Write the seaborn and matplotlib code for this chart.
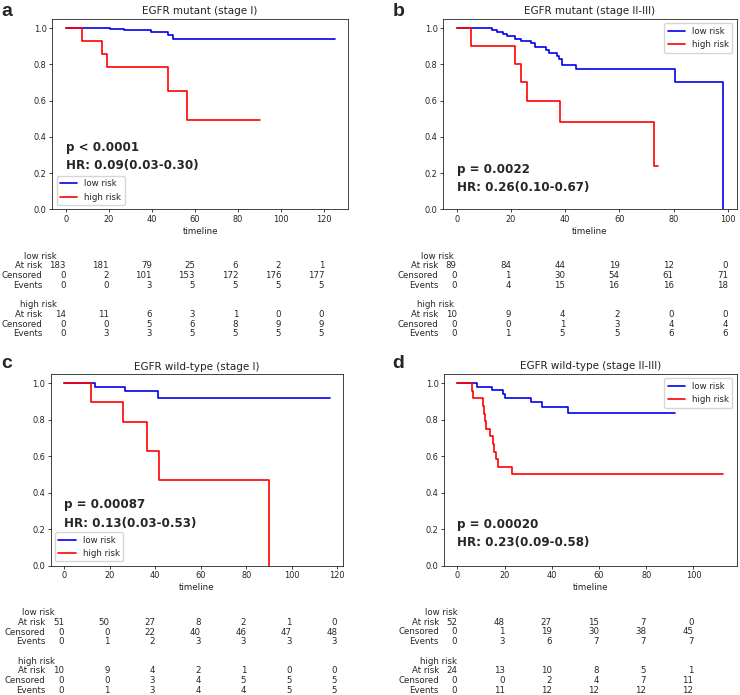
import matplotlib
matplotlib.use("Agg")
import numpy as np
import pandas as pd
import matplotlib.pyplot as plt
import matplotlib.transforms as mtransforms
import seaborn as sns

# ---------------- data ----------------
titles = ["EGFR mutant (stage I)", "EGFR mutant (stage II-III)",
          "EGFR wild-type (stage I)", "EGFR wild-type (stage II-III)"]
panel_letters = ["a", "b", "c", "d"]
p_texts = ["p < 0.0001", "p = 0.0022", "p = 0.00087", "p = 0.00020"]
hr_texts = ["HR: 0.09(0.03-0.30)", "HR: 0.26(0.10-0.67)",
            "HR: 0.13(0.03-0.53)", "HR: 0.23(0.09-0.58)"]
group_names = ["low risk", "high risk"]
row_names = ["At risk", "Censored", "Events"]

# Kaplan-Meier step curves (time, survival)
a_low_t = [0, 20.6, 27.1, 39.8, 47.4, 49.8, 124.8]
a_low_s = [1.0, 0.994, 0.988, 0.977, 0.964, 0.941, 0.941]
a_high_t = [0, 7.5, 16.8, 19.3, 47.4, 56.2, 90.2]
a_high_s = [1.0, 0.929, 0.857, 0.786, 0.655, 0.491, 0.491]

b_low_t = [0, 13.2, 14.8, 17.0, 18.7, 21.5, 23.7, 27.3, 28.8, 33.1, 34.1,
           37.1, 37.7, 38.7, 43.9, 80.4, 98.3]
b_low_s = [1.0, 0.989, 0.977, 0.966, 0.954, 0.942, 0.930, 0.918, 0.893, 0.877,
           0.862, 0.846, 0.830, 0.795, 0.773, 0.703, 0.0]
b_high_t = [0, 5.3, 21.6, 23.7, 25.9, 38.1, 72.9, 74.1]
b_high_s = [1.0, 0.90, 0.80, 0.70, 0.60, 0.48, 0.24, 0.24]

c_low_t = [0, 13.8, 26.8, 41.4, 116.8]
c_low_s = [1.0, 0.980, 0.960, 0.920, 0.920]
c_high_t = [0, 11.7, 25.7, 36.6, 41.5, 90.1]
c_high_s = [1.0, 0.90, 0.787, 0.630, 0.472, 0.0]

d_low_t = [0, 8.5, 14.5, 19.4, 20.1, 31.4, 35.8, 46.9, 92.3]
d_low_s = [1.0, 0.981, 0.961, 0.941, 0.921, 0.898, 0.868, 0.835, 0.835]
d_high_t = [0, 6.3, 6.8, 10.8, 11.3, 11.8, 12.3, 13.8, 15.3, 15.7, 16.2, 17.3, 23.2, 112.7]
d_high_s = [1.0, 0.958, 0.917, 0.875, 0.833, 0.792, 0.750, 0.708, 0.667, 0.625,
            0.583, 0.542, 0.500, 0.500]

# at-risk tables (columns at these times)
a_times = [0, 20, 40, 60, 80, 100, 120]
a_low_atrisk = [183, 181, 79, 25, 6, 2, 1]
a_low_cens = [0, 2, 101, 153, 172, 176, 177]
a_low_events = [0, 0, 3, 5, 5, 5, 5]
a_high_atrisk = [14, 11, 6, 3, 1, 0, 0]
a_high_cens = [0, 0, 5, 6, 8, 9, 9]
a_high_events = [0, 3, 3, 5, 5, 5, 5]

b_times = [0, 20, 40, 60, 80, 100]
b_low_atrisk = [89, 84, 44, 19, 12, 0]
b_low_cens = [0, 1, 30, 54, 61, 71]
b_low_events = [0, 4, 15, 16, 16, 18]
b_high_atrisk = [10, 9, 4, 2, 0, 0]
b_high_cens = [0, 0, 1, 3, 4, 4]
b_high_events = [0, 1, 5, 5, 6, 6]

c_times = [0, 20, 40, 60, 80, 100, 120]
c_low_atrisk = [51, 50, 27, 8, 2, 1, 0]
c_low_cens = [0, 0, 22, 40, 46, 47, 48]
c_low_events = [0, 1, 2, 3, 3, 3, 3]
c_high_atrisk = [10, 9, 4, 2, 1, 0, 0]
c_high_cens = [0, 0, 3, 4, 5, 5, 5]
c_high_events = [0, 1, 3, 4, 4, 5, 5]

d_times = [0, 20, 40, 60, 80, 100]
d_low_atrisk = [52, 48, 27, 15, 7, 0]
d_low_cens = [0, 1, 19, 30, 38, 45]
d_low_events = [0, 3, 6, 7, 7, 7]
d_high_atrisk = [24, 13, 10, 8, 5, 1]
d_high_cens = [0, 0, 2, 4, 7, 11]
d_high_events = [0, 11, 12, 12, 12, 12]

panels = [
    dict(curves=[(a_low_t, a_low_s), (a_high_t, a_high_s)], times=a_times,
         table=[[a_low_atrisk, a_low_cens, a_low_events], [a_high_atrisk, a_high_cens, a_high_events]]),
    dict(curves=[(b_low_t, b_low_s), (b_high_t, b_high_s)], times=b_times,
         table=[[b_low_atrisk, b_low_cens, b_low_events], [b_high_atrisk, b_high_cens, b_high_events]]),
    dict(curves=[(c_low_t, c_low_s), (c_high_t, c_high_s)], times=c_times,
         table=[[c_low_atrisk, c_low_cens, c_low_events], [c_high_atrisk, c_high_cens, c_high_events]]),
    dict(curves=[(d_low_t, d_low_s), (d_high_t, d_high_s)], times=d_times,
         table=[[d_low_atrisk, d_low_cens, d_low_events], [d_high_atrisk, d_high_cens, d_high_events]]),
]

# ---------------- layout / style ----------------
W, H = 740, 695
axes_px = [(52.3, 19, 348, 209.3), (443.3, 19, 736.7, 209.3),
           (50.7, 374.3, 343.3, 565.7), (444, 374, 736.7, 565.5)]
letter_px = [(1.5, 15.5), (393, 16), (1.5, 368.5), (392.5, 368.5)]
stat_y = [(0.319, 0.221), (0.203, 0.103), (0.316, 0.215), (0.206, 0.107)]
legend_loc = ["lower left", "upper right", "lower left", "upper right"]
group_label_dx = [-9, -3, -9, 0]
colors = ["#0000ee", "#ff0000"]

sns.set_style("ticks")
plt.rcParams["font.family"] = ["DejaVu Sans"]
plt.rcParams.update({
    "axes.edgecolor": "#222222", "axes.linewidth": 0.6,
    "xtick.major.size": 2.0, "ytick.major.size": 2.0,
    "xtick.major.width": 0.6, "ytick.major.width": 0.6,
    "xtick.major.pad": 2.0, "ytick.major.pad": 2.0,
    "xtick.labelsize": 5.9, "ytick.labelsize": 5.9,
    "xtick.color": "#222222", "ytick.color": "#222222",
})

fig = plt.figure(figsize=(W / 100, H / 100), dpi=100)

TXT = 6.2
row_step = 9.7
for k, P in enumerate(panels):
    l, t, r, b = axes_px[k]
    ax = fig.add_axes([l / W, 1 - b / H, (r - l) / W, (b - t) / H])
    for (tt, ss), name, col in zip(P["curves"], group_names, colors):
        df = pd.DataFrame({"time": tt, "surv": ss})
        sns.lineplot(data=df, x="time", y="surv", drawstyle="steps-post", color=col,
                     lw=1.2, label=name, ax=ax, estimator=None, sort=False)
    ax.set_ylim(0, 1.05)
    ax.set_yticks([0, 0.2, 0.4, 0.6, 0.8, 1.0])
    ax.set_xticks(P["times"])
    ax.set_xlabel("timeline", fontsize=6.3, labelpad=2.3, color="#222222")
    ax.set_ylabel("")
    ax.set_title(titles[k], fontsize=7.5, pad=3.3, color="#222222")
    ax.legend(loc=legend_loc[k], fontsize=6.2, frameon=True, handlelength=2.0,
              borderpad=0.4, labelspacing=0.5, borderaxespad=0.5)
    ax.text(0, stat_y[k][0], p_texts[k], fontsize=8.6, fontweight="bold", ha="left", va="baseline")
    ax.text(0, stat_y[k][1], hr_texts[k], fontsize=8.6, fontweight="bold", ha="left", va="baseline")

    # at-risk table
    ax_h = b - t
    base = mtransforms.blended_transform_factory(ax.transData, ax.transAxes)
    nd = len(str(max(P["table"][0][0][0], P["table"][1][0][0])))
    lab_dx = -(nd * 5.2 + 8.0)
    t0 = P["times"][0]
    for g in range(2):
        y0 = 47 + g * 5 * row_step
        ax.text(t0, -y0 / ax_h, group_names[g], fontsize=TXT, ha="right", va="center",
                transform=mtransforms.offset_copy(base, fig=fig, x=group_label_dx[k], y=0, units="dots"),
                clip_on=False)
        for ri in range(3):
            yy = -(y0 + row_step * (ri + 1)) / ax_h
            ax.text(t0, yy, row_names[ri], fontsize=TXT, ha="right", va="center",
                    transform=mtransforms.offset_copy(base, fig=fig, x=lab_dx, y=0, units="dots"),
                    clip_on=False)
            for j, tm in enumerate(P["times"]):
                ax.text(tm, yy, str(P["table"][g][ri][j]), fontsize=TXT, ha="right", va="center",
                        transform=base, clip_on=False)

    fig.text(letter_px[k][0] / W, 1 - letter_px[k][1] / H, panel_letters[k],
             fontsize=14, fontweight="bold", family=["Liberation Sans", "DejaVu Sans"],
             ha="left", va="baseline")

fig.savefig("out.png", dpi=100)
